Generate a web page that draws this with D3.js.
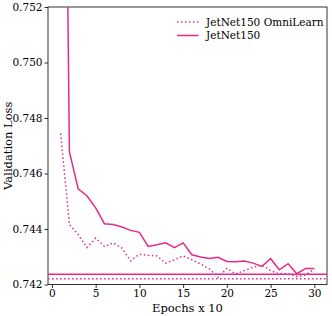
<!DOCTYPE html>
<html>
<head>
<meta charset="utf-8">
<script src="https://cdn.jsdelivr.net/npm/d3@7"></script>
<style>
  body { margin: 0; background: #fff; }
  text { font-family: "DejaVu Serif", serif; fill: #000; }
</style>
</head>
<body>
<div id="chart"></div>
<script>
// data
var epochs = [1,2,3,4,5,6,7,8,9,10,11,12,13,14,15,16,17,18,19,20,21,22,23,24,25,26,27,28,29,30];
var jetnetLoss = [0.7758,0.74678,0.74545,0.74520,0.74476,0.74419,0.74416,0.74407,0.74395,0.74388,
  0.74337,0.74343,0.74350,0.74333,0.74350,0.74307,0.74299,0.74294,0.74298,0.74283,
  0.74282,0.74285,0.74277,0.74265,0.74293,0.74253,0.74275,0.74239,0.74258,0.74258];
var omniLoss = [0.74744,0.74416,0.74380,0.74333,0.74367,0.74337,0.74350,0.74331,0.74285,0.74309,
  0.74305,0.74303,0.74277,0.74289,0.74303,0.74289,0.74274,0.74256,0.74226,0.74258,
  0.74238,0.74250,0.74262,0.74270,0.74250,0.74238,0.74238,0.74229,0.74234,0.74256];
var minJetnet = 0.74237;
var minOmni = 0.74221;
var yTicks = [0.742, 0.744, 0.746, 0.748, 0.750, 0.752];
var xTicks = [0, 5, 10, 15, 20, 25, 30];
var seriesNames = ["JetNet150 OmniLearn", "JetNet150"];

var pink = "#e7298a";

var totalW = 332, totalH = 316;
var margin = { top: 7, right: 5, bottom: 31.5, left: 48 },
    width = totalW - margin.left - margin.right,
    height = totalH - margin.top - margin.bottom;

var svg = d3.select("#chart")
  .append("svg")
  .attr("width", totalW)
  .attr("height", totalH);

var defs = svg.append("defs");
defs.append("clipPath").attr("id", "clip")
  .append("rect").attr("width", width).attr("height", height);

var g = svg.append("g")
  .attr("transform", "translate(" + margin.left + "," + margin.top + ")");

var x = d3.scaleLinear().domain([-0.45, 31.45]).range([0, width]);
var y = d3.scaleLinear().domain([0.742, 0.752]).range([height, 0]);

// axes
var xAxis = g.append("g")
  .attr("transform", "translate(0," + height + ")")
  .call(d3.axisBottom(x).tickValues(xTicks).tickSize(3.5).tickPadding(2).tickFormat(d3.format("d")));
var yAxis = g.append("g")
  .call(d3.axisLeft(y).tickValues(yTicks).tickSize(3.5).tickPadding(2).tickFormat(d3.format(".3f")));

[xAxis, yAxis].forEach(function(a) {
  a.select(".domain").remove();
  a.selectAll("line").attr("stroke", "#000").attr("stroke-width", 0.8);
  a.selectAll("text").style("font-size", "10.5px").style("font-family", "DejaVu Serif, serif");
});

// frame
g.append("rect")
  .attr("width", width).attr("height", height)
  .attr("fill", "none").attr("stroke", "#000").attr("stroke-width", 0.8);

var plot = g.append("g").attr("clip-path", "url(#clip)");

var line = d3.line()
  .x(function(d, i) { return x(epochs[i]); })
  .y(function(d) { return y(d); });

// min reference lines
plot.append("line")
  .attr("x1", 0).attr("x2", width)
  .attr("y1", y(minJetnet)).attr("y2", y(minJetnet))
  .attr("stroke", pink).attr("stroke-width", 1.5);
plot.append("line")
  .attr("x1", 0).attr("x2", width)
  .attr("y1", y(minOmni)).attr("y2", y(minOmni))
  .attr("stroke", pink).attr("stroke-width", 1.5)
  .attr("stroke-dasharray", "1.5,2.5");

plot.append("path")
  .datum(omniLoss)
  .attr("d", line)
  .attr("fill", "none")
  .attr("stroke", pink)
  .attr("stroke-width", 1.5)
  .attr("stroke-dasharray", "1.5,2.5");

plot.append("path")
  .datum(jetnetLoss)
  .attr("d", line)
  .attr("fill", "none")
  .attr("stroke", pink)
  .attr("stroke-width", 1.5);

// axis labels
svg.append("text")
  .attr("x", margin.left + width / 2)
  .attr("y", totalH - 4)
  .attr("text-anchor", "middle")
  .style("font-size", "11.5px")
  .text("Epochs x 10");

svg.append("text")
  .attr("transform", "translate(12," + (margin.top + height / 2) + ") rotate(-90)")
  .attr("text-anchor", "middle")
  .style("font-size", "11.5px")
  .text("Validation Loss");

// legend
var legend = g.append("g").attr("transform", "translate(" + (width - 150) + ",15)");
seriesNames.forEach(function(name, i) {
  var row = legend.append("g").attr("transform", "translate(0," + (i * 13.5) + ")");
  row.append("line")
    .attr("x1", 0).attr("x2", 21.5)
    .attr("stroke", pink).attr("stroke-width", 1.5)
    .attr("stroke-dasharray", i === 0 ? "1.5,2.5" : null);
  row.append("text")
    .attr("x", 29).attr("y", 0).attr("dy", "0.35em")
    .style("font-size", "10.5px")
    .text(name);
});
</script>
</body>
</html>
